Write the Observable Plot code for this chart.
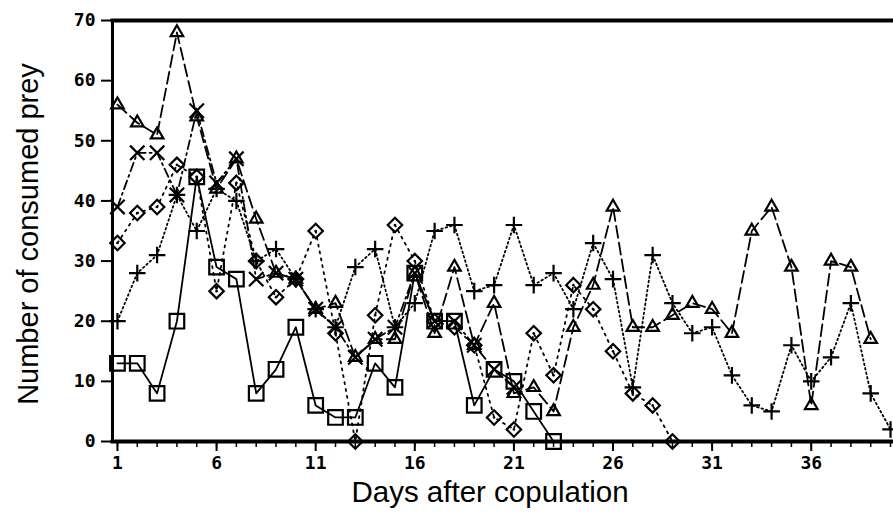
<!DOCTYPE html>
<html><head><meta charset="utf-8">
<script src="https://cdn.jsdelivr.net/npm/d3@7"></script>
<script src="https://cdn.jsdelivr.net/npm/@observablehq/plot@0.6"></script>
<style>body{margin:0;background:#fff}</style>
</head><body><div id="chart"></div>
<script>
const days = [1,2,3,4,5,6,7,8,9,10,11,12,13,14,15,16,17,18,19,20,21,22,23,24,25,26,27,28,29,30,31,32,33,34,35,36,37,38,39,40];
const tickDays = [1,6,11,16,21,26,31,36];
const yTicks = [0,10,20,30,40,50,60,70];
const squareVals   = [13,13,8,20,44,29,27,8,12,19,6,4,4,13,9,28,20,20,6,12,10,5,0];
const triangleVals = [56,53,51,68,54,42,47,37,28,27,22,23,14,17,17,28,18,29,16,23,8,9,5,19,26,39,19,19,21,23,22,18,35,39,29,6,30,29,17];
const crossVals    = [39,48,48,41,55,43,47,27,28,27,22,19,14,17,19,28,20,20,16,12,9];
const diamondVals  = [33,38,39,46,44,25,43,30,24,27,35,18,0,21,36,30,20,19,16,4,2,18,11,26,22,15,8,6,0];
const plusVals     = [20,28,31,41,35,42,40,30,32,27,22,19,29,32,19,23,35,36,25,26,36,26,28,22,33,27,9,31,23,18,19,11,6,5,16,10,14,23,8,2];

const rows = vals => vals.map((v, i) => ({day: days[i], value: v}));
const series = [
  {vals: squareVals,   symbol: "square2",   r: 9.3, dash: null},
  {vals: triangleVals, symbol: "triangle2", r: 6.0, dash: "12,5"},
  {vals: crossVals,    symbol: "times",     r: 6.6, dash: "9,4,2,4"},
  {vals: diamondVals,  symbol: "diamond2",  r: 6.5, dash: "2,5"},
  {vals: plusVals,     symbol: "plus",      r: 5.4, dash: "1.6,3"}
];

const marks = [
  Plot.frame({anchor: "top", strokeWidth: 4}),
  Plot.frame({anchor: "left", strokeWidth: 3}),
  Plot.frame({anchor: "bottom", strokeWidth: 4}),
  Plot.axisY(yTicks, {tickSize: 11, tickPadding: 6, strokeWidth: 2, label: null}),
  Plot.axisX(days, {tickSize: 6, strokeWidth: 1.5, tickFormat: () => "", label: null}),
  Plot.axisX(tickDays, {tickSize: 10, tickPadding: 5, strokeWidth: 2, label: null}),
  Plot.text(["Number of consumed prey"], {text: d => d, frameAnchor: "left", textAnchor: "middle", rotate: -90, dx: -84, dy: 3, fontSize: 29, fontWeight: "normal", fontFamily: "Liberation Sans"}),
  Plot.text(["Days after copulation"], {text: d => d, frameAnchor: "bottom", textAnchor: "middle", dy: 60, dx: -13, fontSize: 29.5, fontWeight: "normal", fontFamily: "Liberation Sans"})
];
for (const s of series) {
  const data = rows(s.vals);
  marks.push(Plot.line(data, {x: "day", y: "value", stroke: "black", strokeWidth: 1.8, strokeDasharray: s.dash}));
  marks.push(Plot.dot(data, {x: "day", y: "value", symbol: s.symbol, r: s.r, stroke: "black", strokeWidth: 2.2, fill: "none"}));
  if (s.symbol === "diamond2") marks.push(Plot.dot(data, {x: "day", y: "value", r: 1.3, fill: "black"}));
}

const chart = Plot.plot({
  width: 893, height: 520,
  marginLeft: 112, marginRight: 0, marginTop: 20, marginBottom: 79,
  x: {domain: [0.75, 40.15]},
  y: {domain: [0, 70]},
  style: {background: "white", color: "black", overflow: "visible", fontSize: "18px", fontWeight: "bold", fontFamily: "DejaVu Sans Mono"},
  marks
});
document.getElementById("chart").appendChild(chart);
</script>
</body></html>
